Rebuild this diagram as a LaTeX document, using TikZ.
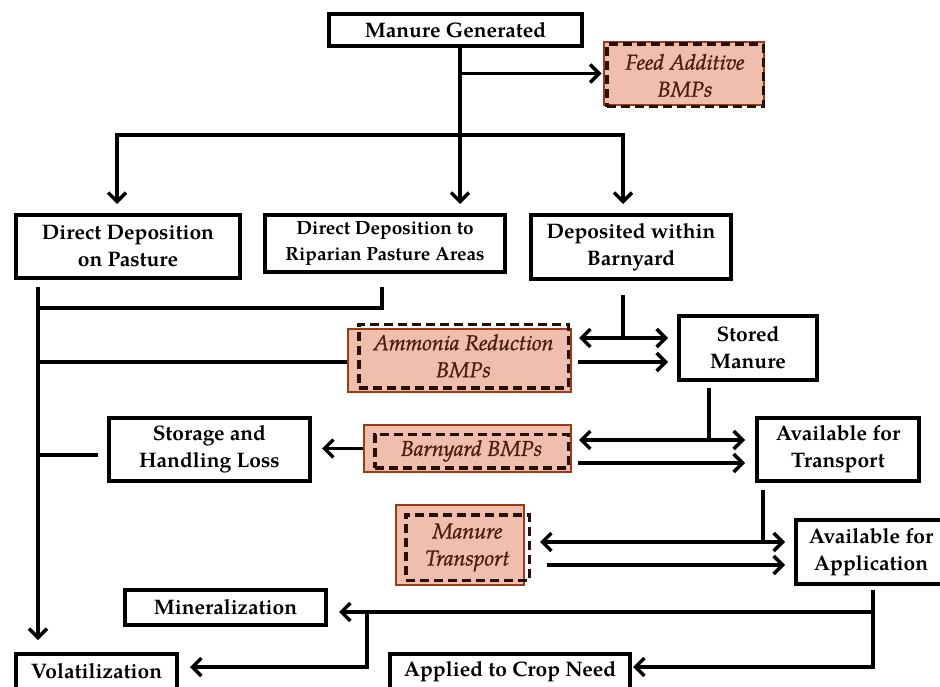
\documentclass[tikz,border=0pt]{standalone}
\usepackage{fontspec}
\setmainfont{texgyrepagella}[Extension=.otf,UprightFont=*-regular,BoldFont=*-bold,ItalicFont=*-italic,BoldItalicFont=*-bolditalic]
\newfontfamily\bmpfont{texgyrepagella}[Extension=.otf,UprightFont=*-italic,FakeBold=1.2]
\usetikzlibrary{arrows.meta}
\definecolor{bmpfill}{RGB}{240,190,172}
\definecolor{bmpborder}{RGB}{160,58,22}
\definecolor{bmptext}{RGB}{78,28,10}
\definecolor{dashcol}{RGB}{40,15,5}
\tikzset{
  box/.style={draw=black, line width=4pt, fill=white, align=center, inner sep=0pt,
    font=\bfseries\fontsize{21}{27}\selectfont},
  sz/.style 2 args={minimum width=#1pt-4pt, minimum height=#2pt-4pt},
  bmp/.style={draw=bmpborder, line width=2.2pt, fill=bmpfill, inner sep=0pt},
  bsz/.style 2 args={minimum width=#1pt-2.2pt, minimum height=#2pt-2.2pt},
  dbox/.style={draw=dashcol, line width=3.5pt, dash pattern=on 9pt off 5pt, inner sep=0pt,
    align=center, text=bmptext, font=\bmpfont\fontsize{21.5}{27}\selectfont},
  dsz/.style 2 args={minimum width=#1pt-3.5pt, minimum height=#2pt-3.5pt},
  ln/.style={line width=3.5pt},
  >={Straight Barb[length=9pt,width=18pt]}
}
\begin{document}
\begin{tikzpicture}[x=1pt,y=-1pt]
\clip (0,0) rectangle (940,687);
\fill[white] (0,0) rectangle (940,687);
% main boxes
\node[box, sz={257}{36}] (mg) at (455.5,30) {Manure Generated};
\node[box, sz={228}{67}] (ddp) at (128,246.5) {Direct Deposition\\on Pasture};
\node[box, sz={244}{61}, font=\bfseries\fontsize{19}{26}\selectfont] (ddr) at (385,243.5) {Direct Deposition to\\Riparian Pasture Areas};
\node[box, sz={204}{68}] (dwb) at (631,247) {Deposited within\\Barnyard};
\node[box, sz={142}{68}] (sm) at (748,348) {Stored\\Manure};
\node[box, sz={205}{67}] (shl) at (209.5,449.5) {Storage and\\Handling Loss};
\node[box, sz={166}{67}] (aft) at (838,449.5) {Available for\\Transport};
\node[box, sz={154}{68}] (afa) at (871,552) {Available for\\Application};
\node[box, sz={205}{39}] (min) at (225.5,607.5) {Mineralization};
\node[box, sz={165}{39}] (vol) at (96.5,671.5) {Volatilization};
\node[box, sz={244}{39}] (acn) at (510,671.5) {Applied to Crop Need};
% BMP boxes
\node[bmp, bsz={162}{65}] (fa) at (684,73.5) {};
\node[dbox, dsz={160}{66}] (fad) at (685,75.5) {Feed Additive\\BMPs};
\node[bmp, bsz={225}{65}] (am) at (459.5,360.5) {};
\node[dbox, dsz={213}{67}] (amd) at (463.5,356) {Ammonia Reduction\\BMPs};
\node[bmp, bsz={209}{49}] (bb) at (467.5,448.5) {};
\node[dbox, dsz={197}{37}] (bbd) at (471.5,451) {Barnyard BMPs};
\node[bmp, bsz={130}{82}] (mt) at (460,545) {};
\node[dbox, dsz={127}{69}] (mtd) at (467.5,547.5) {Manure\\Transport};
% helper coordinates
\coordinate (xA) at (460,0);
\coordinate (xL) at (117,0);
\coordinate (xR) at (623,0);
\coordinate (xV) at (38,0);
\coordinate (xr) at (382,0);
\coordinate (xS) at (709,0);
\coordinate (xT) at (763,0);
\coordinate (xP) at (873,0);
\coordinate (xM) at (367,0);
\coordinate (r135) at (0,135);
\coordinate (r308) at (0,308);
\coordinate (r338) at (0,338);
\coordinate (r362) at (0,362);
\coordinate (r440) at (0,440);
\coordinate (r455) at (0,455);
\coordinate (r463) at (0,463);
\coordinate (r542) at (0,542);
\coordinate (r565) at (0,565);
\coordinate (r612) at (0,612);
\coordinate (r667) at (0,667);
% connectors
\draw[ln,->,shorten >=9pt] (mg.south -| xA) -- (ddr.north -| xA);
\draw[ln,->,shorten >=1.5pt] (xA |- fa.west) -- (fa.west);
\draw[ln,->,shorten >=9pt] (xA |- r135) -| (ddp.north -| xL);
\draw[ln,->,shorten >=9pt] (xA |- r135) -| (dwb.north -| xR);
\draw[ln,->,shorten <=7pt,shorten >=12pt] (ddp.south -| xV) -- (vol.north -| xV);
\draw[ln,shorten <=13pt] (ddr.south -| xr) |- (xV |- r308);
\draw[ln] (am.west |- r362) -- (xV |- r362);
\draw[ln,shorten <=9pt] (shl.west |- r455) -- (xV |- r455);
\draw[ln,->,shorten >=10pt] (bb.west) -- (bb.west -| shl.east);
\draw[ln,shorten <=14pt] (dwb.south -| xR) -- (xR |- r338);
\draw[ln,<->,shorten <=7pt,shorten >=9pt] (am.east |- r338) -- (sm.west |- r338);
\draw[ln,->,shorten <=6pt,shorten >=9pt] (am.east |- r362) -- (sm.west |- r362);
\draw[ln,shorten <=6pt] (sm.south -| xS) -- (xS |- r440);
\draw[ln,<->,shorten <=7pt,shorten >=10pt] (bb.east |- r440) -- (aft.west |- r440);
\draw[ln,->,shorten <=6pt,shorten >=10pt] (bb.east |- r463) -- (aft.west |- r463);
\draw[ln,shorten <=7pt] (aft.south -| xT) -- (xT |- r542);
\draw[ln,<->,shorten <=15pt,shorten >=9pt] (mt.east |- r542) -- (afa.west |- r542);
\draw[ln,->,shorten <=22pt,shorten >=9pt] (mt.east |- r565) -- (afa.west |- r565);
\draw[ln,->,shorten <=4pt,shorten >=1pt] (afa.south -| xP) |- (acn.east |- r667);
\draw[ln,->,shorten >=11pt] (xP |- r612) -- (min.east |- r612);
\draw[ln,->,shorten >=11pt] (xM |- r612) |- (vol.east |- r667);
\end{tikzpicture}
\end{document}
